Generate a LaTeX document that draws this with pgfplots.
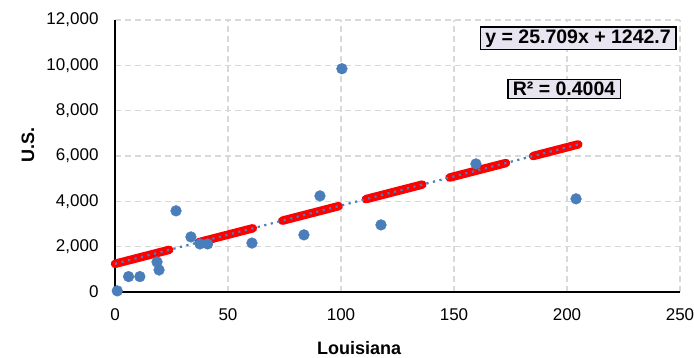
\documentclass[border=0pt]{standalone}
\usepackage{pgfplots}
\pgfplotsset{compat=1.18}
\usepackage{fontspec}
\setmainfont{Liberation Sans}
\definecolor{ptblue}{RGB}{74,126,187}
\definecolor{gridgray}{RGB}{217,217,217}
\definecolor{boxfill}{RGB}{232,228,240}
\begin{document}
\begin{tikzpicture}
\path[use as bounding box] (-115bp,-66bp) rectangle (579bp,292bp);
\begin{axis}[
  at={(0,0)}, anchor=south west,
  scale only axis, width=565bp, height=272bp,
  xmin=0, xmax=250, ymin=0, ymax=12000,
  xtick={0,50,...,250}, ytick={0,2000,...,12000},
  axis x line=bottom, axis y line=left,
  axis line style={-, black, line width=1.2bp},
  major tick length=0pt,
  grid=major,
  major grid style={gridgray, dashed, line width=1.1bp, dash pattern=on 6bp off 4bp},
  scaled y ticks=false,
  /pgf/number format/.cd, 1000 sep={,}, assume math mode=true,
  /pgfplots/.cd,
  ticklabel style={font=\fontsize{17bp}{20bp}\selectfont, text=black},
  yticklabel style={xshift=-13bp},
  xticklabel style={yshift=-13bp},
  xlabel={Louisiana}, ylabel={U.S.},
  every axis x label/.style={at={(axis description cs:0.432,0)}, anchor=center, yshift=-56bp, font=\fontsize{18bp}{21bp}\selectfont\bfseries},
  every axis y label/.style={at={(axis description cs:-0.154,0.54)}, rotate=90, anchor=center, font=\fontsize{18bp}{21bp}\selectfont\bfseries},
  clip=false,
]
% red segments along the trendline
\addplot[red, line width=8.5bp, line cap=round] coordinates {(0,1242.7) (24,1859.7)};
\addplot[red, line width=8.5bp, line cap=round] coordinates {(37,2193.9) (61,2810.9)};
\addplot[red, line width=8.5bp, line cap=round] coordinates {(74,3145.2) (99,3787.9)};
\addplot[red, line width=8.5bp, line cap=round] coordinates {(111,4096.4) (136,4739.1)};
\addplot[red, line width=8.5bp, line cap=round] coordinates {(148,5047.6) (173,5690.4)};
\addplot[red, line width=8.5bp, line cap=round] coordinates {(185,5998.9) (205,6513.1)};
% trendline
\addplot[ptblue, line width=2.2bp, dash pattern=on 2.2bp off 4.5bp] coordinates {(0,1242.7) (205,6513.1)};
% scatter
\addplot[only marks, mark=*, mark size=5.4bp, mark options={fill=ptblue, draw=ptblue}] coordinates {
(1,50) (6,680) (11,680) (18.6,1325) (19.5,971) (27,3580) (33.6,2430)
(37.6,2120) (41,2120) (60.6,2160) (83.6,2520) (90.7,4240) (100.4,9850)
(117.7,2960) (159.7,5650) (204,4110)
};
\node[draw=black, line width=1.5bp, fill=boxfill, inner xsep=5bp, inner ysep=2.5bp, font=\fontsize{19.5bp}{22bp}\selectfont\bfseries] at (axis cs:204.9,11196) {y = 25.709x + 1242.7};
\node[draw=black, line width=1.5bp, fill=boxfill, inner xsep=5bp, inner ysep=2.5bp, font=\fontsize{19.5bp}{22bp}\selectfont\bfseries] at (axis cs:198.7,8962) {R² = 0.4004};
\end{axis}
\end{tikzpicture}
\end{document}
